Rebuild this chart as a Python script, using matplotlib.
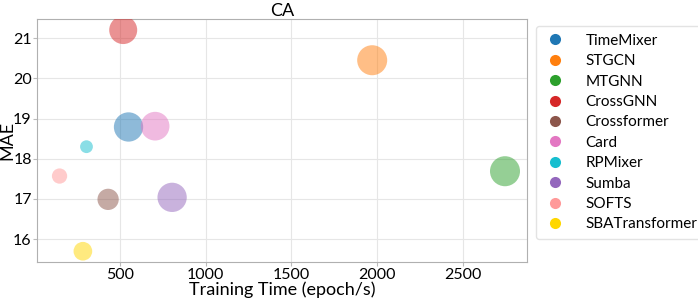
import matplotlib
matplotlib.use("Agg")
import matplotlib.pyplot as plt
from matplotlib.lines import Line2D

plt.rcParams['font.family'] = ['Lato', 'DejaVu Sans']

modelos = ["TimeMixer", "STGCN", "MTGNN", "CrossGNN", "Crossformer",
           "Card", "RPMixer", "Sumba", "SOFTS", "SBATransformer"]
tiempo = [551, 1971, 2745, 520, 432, 706, 306, 805, 149, 285]
mae = [18.79, 20.45, 17.69, 21.20, 16.99, 18.81, 18.30, 17.04, 17.57, 15.70]
tamanos = [445, 467, 467, 406, 235, 427, 85, 445, 121, 181]
colores = ["tab:blue", "tab:orange", "tab:green", "tab:red", "tab:brown",
           "tab:pink", "tab:cyan", "tab:purple", "#ff9999", "#ffd700"]

fig = plt.figure(figsize=(6.98, 2.98), dpi=100)
ax = fig.add_axes([0.0534, 0.1198, 0.702, 0.8164])

for t, m, s, c in zip(tiempo, mae, tamanos, colores):
    ax.scatter(t, m, s=s, color=c, alpha=0.5, edgecolors='none', zorder=3)

ax.set_title("CA", fontsize=13, pad=2)
ax.set_xlabel("Training Time (epoch/s)", fontsize=13, labelpad=0)
ax.set_ylabel("MAE", fontsize=13)
ax.yaxis.set_label_coords(-0.045, 0.5)
ax.set_xticks([500, 1000, 1500, 2000, 2500])
ax.set_yticks([16, 17, 18, 19, 20, 21])
ax.tick_params(labelsize=11.5, length=3, color='#bbbbbb', pad=1)
ax.grid(color='#e6e6e6', linewidth=0.8, zorder=0)
ax.set_axisbelow(True)
for sp in ax.spines.values():
    sp.set_color('#b0b0b0')

handles = [Line2D([], [], marker='o', linestyle='none', markersize=8,
                  markerfacecolor=c, markeredgecolor='none', label=n)
           for n, c in zip(modelos, colores)]
ax.legend(handles=handles, loc='upper left', bbox_to_anchor=(1.018, 0.971),
          borderaxespad=0, fontsize=11, frameon=True, edgecolor='#dddddd',
          fancybox=True, handlelength=1.45, handletextpad=1.3,
          labelspacing=0.42, borderpad=0.5)

fig.savefig("out.png", dpi=100)
